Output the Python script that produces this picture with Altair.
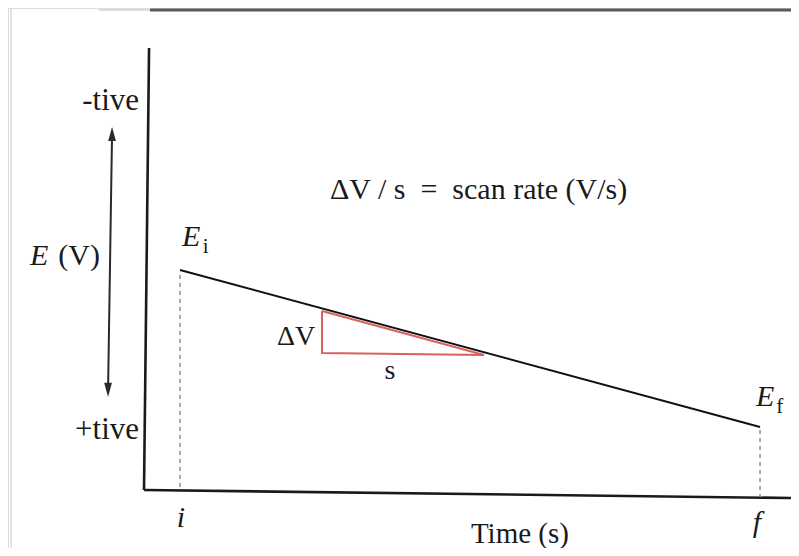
import altair as alt
import pandas as pd

# ---- data (time t in s, potential E in V; E grows downward: -tive at top) ----
t_i, t_f = 0.0, 10.0
E_i, E_f = 0.0, 0.8

# axes frame
axis_t1 = [-0.534, -0.621]
axis_E1 = [-1.131, 1.121]
axis_t2 = [-0.621, 10.534]
axis_E2 = [1.121, 1.162]

# dashed drop lines at i and f
drop_t = [0.0, 10.0]
drop_E1 = [0.0255, 0.815]
drop_E2 = [1.121, 1.152]

# slope triangle (dV over s)
tri_t = [2.448, 2.448, 5.241, 2.448]
tri_E = [0.2089, 0.4229, 0.4331, 0.2089]
tri_order = [0, 1, 2, 3]

# double arrow for E direction
arrow_t = [-1.172, -1.241]
arrow_E = [-0.693, 0.611]
head_up = [-1.172, -0.693]
head_dn = [-1.241, 0.611]

# scan artefacts
scan_top_t = [-0.517, 10.534]
scan_top_E = [-1.325, -1.325]
scan_faint_t = [-1.4, -0.517]
scan_left_t = [-2.914, -2.914]
scan_left_E = [-1.335, 1.4166]

X_DOM = [-2.966, 10.534]
Y_DOM = [-1.335, 1.4166]

xs = alt.Scale(domain=X_DOM, nice=False, zero=False)
ys = alt.Scale(domain=Y_DOM, nice=False, zero=False, reverse=True)

def X(f="t"):
    return alt.X(f"{f}:Q", scale=xs, axis=None)

def Y(f="E"):
    return alt.Y(f"{f}:Q", scale=ys, axis=None)

SERIF = "Liberation Serif"
NB = "\u00a0"

seg = lambda t1, e1, t2, e2: pd.DataFrame({"t": t1, "E": e1, "t2": t2, "E2": e2})

axes = alt.Chart(seg(axis_t1, axis_E1, axis_t2, axis_E2)).mark_rule(
    color="#1a1a1a", strokeWidth=2.6).encode(x=X(), y=Y(), x2="t2:Q", y2="E2:Q")

sweep = alt.Chart(seg([t_i], [E_i], [t_f], [E_f])).mark_rule(
    color="#111", strokeWidth=2).encode(x=X(), y=Y(), x2="t2:Q", y2="E2:Q")

drops = alt.Chart(seg(drop_t, drop_E1, drop_t, drop_E2)).mark_rule(
    color="#555", strokeWidth=1, strokeDash=[4, 4]).encode(x=X(), y=Y(), x2="t2:Q", y2="E2:Q")

tri = alt.Chart(pd.DataFrame({"t": tri_t, "E": tri_E, "o": tri_order})).mark_line(
    color="#d9625c", strokeWidth=2).encode(x=X(), y=Y(), order="o:Q")

shaft = alt.Chart(seg([arrow_t[0]], [arrow_E[0]], [arrow_t[1]], [arrow_E[1]])).mark_rule(
    color="#2a2a2a", strokeWidth=2).encode(x=X(), y=Y(), x2="t2:Q", y2="E2:Q")

hu = alt.Chart(pd.DataFrame({"t": [head_up[0]], "E": [head_up[1]]})).mark_point(
    shape="M0,-1L0.55,1L-0.55,1Z", size=200, filled=True, color="#2a2a2a", opacity=1
).encode(x=X(), y=Y())
hd = alt.Chart(pd.DataFrame({"t": [head_dn[0]], "E": [head_dn[1]]})).mark_point(
    shape="M0,1L0.55,-1L-0.55,-1Z", size=200, filled=True, color="#2a2a2a", opacity=1
).encode(x=X(), y=Y())

scan_faint = alt.Chart(seg([scan_faint_t[0]], [scan_top_E[0]], [scan_faint_t[1]], [scan_top_E[1]])).mark_rule(
    color="#dcdcdc", strokeWidth=2).encode(x=X(), y=Y(), x2="t2:Q", y2="E2:Q")
scan_top = alt.Chart(seg([scan_top_t[0]], [scan_top_E[0]], [scan_top_t[1]], [scan_top_E[1]])).mark_rule(
    color="#5a5a5a", strokeWidth=3).encode(x=X(), y=Y(), x2="t2:Q", y2="E2:Q")
scan_left = alt.Chart(seg([scan_left_t[0]], [scan_left_E[0]], [scan_left_t[1]], [scan_left_E[1]])).mark_rule(
    color="#c8c8c8", strokeWidth=1).encode(x=X(), y=Y(), x2="t2:Q", y2="E2:Q")

# ---- text labels ----
def label(t, E, text, size, align="left", italic=False):
    return alt.Chart(pd.DataFrame({"t": [t], "E": [E], "s": [text]})).mark_text(
        font=SERIF, fontSize=size, align=align, baseline="alphabetic", color="#1a1a1a",
        fontStyle="italic" if italic else "normal"
    ).encode(x=X(), y=Y(), text="s:N")

scan_txt = "ΔV / s" + NB + " = " + NB + "scan rate (V/s)"

texts = [
    label(-0.707, -0.815, "-tive", 31, "right"),
    label(-0.707, 0.861, "+tive", 31, "right"),
    label(-2.586, -0.0255, "E", 30, "left", True),
    label(-2.10, -0.0255, "(V)", 30, "left"),
    label(0.035, -0.1223, "E", 30, "left", True),
    label(0.39, -0.085, "i", 21, "left"),
    label(9.93, 0.693, "E", 30, "left", True),
    label(10.28, 0.728, "f", 21, "left"),
    label(2.586, -0.362, scan_txt, 30, "left"),
    label(2.33, 0.382, "ΔV", 28, "right"),
    label(3.62, 0.555, "s", 28, "center"),
    label(0.017, 1.3096, "i", 30, "center", True),
    label(9.948, 1.335, "f", 30, "center", True),
    label(5.86, 1.392, "Time (s)", 29, "center"),
]

chart = alt.layer(
    scan_left, scan_faint, scan_top, drops, axes, sweep, tri, shaft, hu, hd, *texts
).properties(
    width=783, height=540, padding=0, autosize=alt.AutoSizeParams(type="none")
).configure_view(stroke=None).configure(background="white")

chart.save("out.html", embed_options={"renderer": "svg", "actions": False})
